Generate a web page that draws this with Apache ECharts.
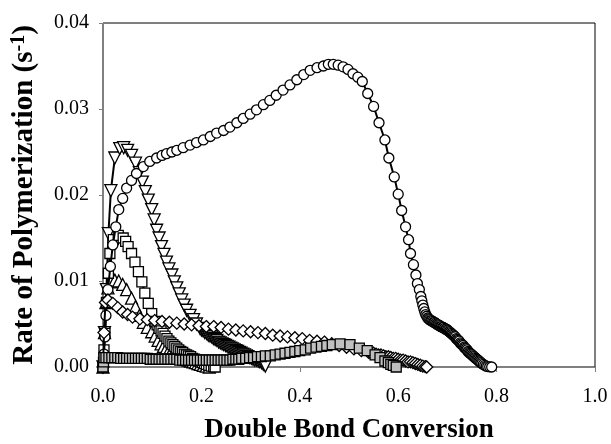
<!DOCTYPE html>
<html>
<head>
<meta charset="utf-8">
<script src="https://cdn.jsdelivr.net/npm/echarts@6.0.0/dist/echarts.min.js"></script>
<style>
html,body{margin:0;padding:0;background:#fff;}
#chart{width:611px;height:444px;}
</style>
</head>
<body>
<div id="chart"></div>
<script>
// ---- data (x = double bond conversion, y = rate of polymerization, s^-1) ----
const xTicks = [0.0, 0.2, 0.4, 0.6, 0.8, 1.0];
const yTicks = [0.00, 0.01, 0.02, 0.03, 0.04];

const downTriangles = [[0,0],[0.003,0.004],[0.007,0.009],[0.011,0.0155],[0.016,0.0205],[0.024,0.0243],[0.034,0.0254],[0.042,0.0255],[0.05,0.0252],[0.058,0.0246],[0.066,0.0237],[0.074,0.0226],[0.08,0.0215],[0.086,0.0204],[0.092,0.0194],[0.099,0.0183],[0.104,0.0171],[0.109,0.0159],[0.114,0.015],[0.119,0.014],[0.124,0.0131],[0.129,0.0122],[0.134,0.0114],[0.14,0.0107],[0.145,0.0099],[0.15,0.0092],[0.155,0.0085],[0.16,0.0078],[0.165,0.0072],[0.17,0.0066],[0.177,0.006],[0.184,0.0055],[0.19,0.005],[0.197,0.0045],[0.2,0.0043],[0.2035,0.0042],[0.207,0.004],[0.2105,0.0039],[0.214,0.0037],[0.2175,0.0036],[0.221,0.0035],[0.2245,0.0033],[0.228,0.0032],[0.2315,0.0031],[0.235,0.0029],[0.2385,0.0028],[0.242,0.0027],[0.2455,0.0026],[0.249,0.0025],[0.2525,0.0024],[0.256,0.0023],[0.2595,0.0022],[0.263,0.0021],[0.2665,0.002],[0.27,0.0019],[0.2735,0.0018],[0.277,0.0017],[0.2805,0.0016],[0.284,0.0015],[0.2875,0.0014],[0.291,0.0013],[0.2945,0.0012],[0.298,0.0011],[0.3015,0.001],[0.305,0.0009],[0.3085,0.0008],[0.312,0.0008],[0.3155,0.0007],[0.319,0.0006],[0.3225,0.0005],[0.326,0.0003],[0.33,0.0001]];

const upTriangles = [[0,0],[0.003,0.004],[0.006,0.0075],[0.01,0.0092],[0.016,0.0099],[0.024,0.0101],[0.032,0.01],[0.04,0.0096],[0.048,0.009],[0.058,0.008],[0.066,0.007],[0.074,0.006],[0.082,0.0052],[0.09,0.0046],[0.099,0.0041],[0.106,0.0036],[0.112,0.0031],[0.118,0.0027],[0.123,0.0024],[0.128,0.0021],[0.133,0.0018],[0.138,0.0017],[0.143,0.0016],[0.148,0.0014],[0.153,0.0012],[0.158,0.0011],[0.163,0.001],[0.168,0.0009],[0.173,0.0008],[0.178,0.0007],[0.183,0.0006],[0.188,0.0005],[0.193,0.0004],[0.198,0.0003],[0.204,0.0002],[0.21,0.0001],[0.216,0]];

const openSquares = [[0,0],[0.002,0.002],[0.004,0.0039],[0.007,0.0075],[0.011,0.0109],[0.014,0.0132],[0.021,0.0148],[0.031,0.0153],[0.041,0.015],[0.046,0.0146],[0.051,0.014],[0.058,0.0132],[0.065,0.0122],[0.072,0.0111],[0.079,0.0099],[0.085,0.0086],[0.092,0.0074],[0.099,0.0062],[0.106,0.0053],[0.11,0.0049],[0.114,0.0045],[0.118,0.0042],[0.122,0.0039],[0.126,0.0036],[0.13,0.0033],[0.134,0.003],[0.138,0.0028],[0.142,0.0026],[0.146,0.0024],[0.15,0.0022],[0.154,0.002],[0.158,0.0018],[0.162,0.0017],[0.166,0.0015],[0.17,0.0014],[0.174,0.0013],[0.178,0.0012],[0.182,0.001],[0.186,0.0009],[0.19,0.0008],[0.194,0.0007],[0.198,0.0006],[0.202,0.0005],[0.206,0.0004],[0.21,0.0003],[0.215,0.0002],[0.22,0.0001],[0.225,0.00005],[0.228,0]];

const circles = [[0,0],[0.002,0.0015],[0.004,0.0035],[0.006,0.006],[0.01,0.009],[0.015,0.0117],[0.02,0.0142],[0.026,0.0163],[0.032,0.0183],[0.04,0.0196],[0.048,0.0208],[0.058,0.0217],[0.068,0.0225],[0.082,0.0233],[0.095,0.0239],[0.109,0.0243],[0.12,0.0246],[0.129,0.0248],[0.14,0.025],[0.15,0.0252],[0.163,0.0255],[0.177,0.0258],[0.19,0.0261],[0.204,0.0264],[0.218,0.0268],[0.231,0.0272],[0.245,0.0275],[0.258,0.0279],[0.272,0.0284],[0.285,0.0289],[0.299,0.0294],[0.312,0.0299],[0.326,0.0305],[0.339,0.031],[0.352,0.0316],[0.366,0.0322],[0.38,0.0328],[0.394,0.0334],[0.408,0.034],[0.421,0.0345],[0.435,0.0348],[0.448,0.035],[0.458,0.0352],[0.468,0.0352],[0.478,0.0351],[0.488,0.0349],[0.498,0.0346],[0.508,0.0341],[0.518,0.0337],[0.527,0.0332],[0.538,0.0318],[0.55,0.0303],[0.561,0.0284],[0.573,0.0264],[0.581,0.0243],[0.592,0.0221],[0.6,0.0201],[0.607,0.0182],[0.615,0.0163],[0.621,0.0148],[0.625,0.0132],[0.631,0.0119],[0.636,0.0107],[0.639,0.0097],[0.643,0.009],[0.646,0.0082],[0.648,0.0077],[0.65,0.0072],[0.652,0.0068],[0.654,0.0064],[0.656,0.0061],[0.658,0.0059],[0.66,0.0057],[0.662,0.0056],[0.664,0.0055],[0.666,0.0054],[0.668,0.0054],[0.67,0.0053],[0.672,0.0052],[0.674,0.0052],[0.676,0.0051],[0.678,0.005],[0.68,0.0049],[0.682,0.0049],[0.684,0.0048],[0.686,0.0047],[0.688,0.0047],[0.69,0.0046],[0.692,0.0046],[0.694,0.0045],[0.696,0.0044],[0.698,0.0044],[0.7,0.0043],[0.702,0.0042],[0.704,0.0041],[0.706,0.004],[0.708,0.0039],[0.71,0.0038],[0.712,0.0037],[0.714,0.0036],[0.716,0.0035],[0.718,0.0033],[0.72,0.0032],[0.722,0.0031],[0.724,0.003],[0.726,0.0028],[0.728,0.0027],[0.73,0.0026],[0.732,0.0025],[0.734,0.0023],[0.736,0.0022],[0.738,0.0021],[0.74,0.002],[0.742,0.0018],[0.744,0.0017],[0.746,0.0016],[0.748,0.0015],[0.75,0.0014],[0.752,0.0013],[0.754,0.0012],[0.756,0.0011],[0.758,0.001],[0.76,0.0009],[0.762,0.0008],[0.764,0.0007],[0.766,0.0006],[0.768,0.0005],[0.77,0.0004],[0.773,0.0003],[0.776,0.0002],[0.779,0.0001],[0.782,0.00005],[0.786,0.00002],[0.79,0]];

const diamonds = [[0,0],[0.002,0.004],[0.005,0.0075],[0.01,0.0078],[0.02,0.0074],[0.03,0.0069],[0.04,0.0064],[0.05,0.0061],[0.06,0.0058],[0.075,0.0056],[0.09,0.0055],[0.105,0.0054],[0.12,0.0053],[0.135,0.0052],[0.15,0.0051],[0.165,0.005],[0.18,0.0049],[0.195,0.0048],[0.21,0.0047],[0.225,0.0047],[0.24,0.0046],[0.255,0.0044],[0.27,0.0043],[0.285,0.0042],[0.3,0.0041],[0.315,0.004],[0.33,0.0039],[0.345,0.0037],[0.36,0.0036],[0.375,0.0035],[0.39,0.0034],[0.405,0.0033],[0.42,0.0031],[0.435,0.003],[0.45,0.0029],[0.465,0.0027],[0.48,0.0025],[0.495,0.0023],[0.51,0.0021],[0.525,0.0019],[0.54,0.0017],[0.545,0.0016],[0.55,0.0016],[0.555,0.0015],[0.56,0.0014],[0.565,0.0014],[0.57,0.0013],[0.575,0.0012],[0.58,0.0012],[0.585,0.0011],[0.59,0.001],[0.595,0.001],[0.6,0.0009],[0.605,0.0008],[0.61,0.0008],[0.615,0.0007],[0.62,0.0006],[0.625,0.0006],[0.63,0.0005],[0.635,0.0004],[0.64,0.0003],[0.645,0.0002],[0.65,0.0001],[0.655,0.00005],[0.658,0]];

const graySquares = [[0,0],[0.001,0.0006],[0.002,0.0011],[0.006,0.0011],[0.012,0.0011],[0.018,0.0011],[0.024,0.0011],[0.03,0.0011],[0.036,0.001],[0.042,0.001],[0.048,0.001],[0.054,0.001],[0.06,0.001],[0.066,0.001],[0.072,0.001],[0.078,0.001],[0.084,0.001],[0.09,0.001],[0.096,0.0009],[0.102,0.0009],[0.108,0.0009],[0.114,0.0009],[0.12,0.0009],[0.126,0.0009],[0.132,0.0009],[0.138,0.0009],[0.144,0.0009],[0.15,0.0009],[0.156,0.0008],[0.162,0.0008],[0.168,0.0008],[0.174,0.0008],[0.18,0.0008],[0.186,0.0008],[0.192,0.0008],[0.198,0.0008],[0.204,0.0008],[0.21,0.0008],[0.216,0.0008],[0.222,0.0008],[0.228,0.0008],[0.234,0.0008],[0.24,0.0008],[0.246,0.0008],[0.252,0.0008],[0.258,0.0008],[0.264,0.0009],[0.27,0.0009],[0.276,0.0009],[0.282,0.001],[0.29,0.001],[0.298,0.0011],[0.306,0.0011],[0.314,0.0012],[0.322,0.0012],[0.33,0.0013],[0.34,0.0013],[0.35,0.0014],[0.36,0.0015],[0.37,0.0016],[0.38,0.0017],[0.39,0.0018],[0.4,0.0019],[0.411,0.002],[0.422,0.0022],[0.433,0.0023],[0.444,0.0024],[0.455,0.0025],[0.466,0.0026],[0.482,0.0027],[0.502,0.0026],[0.521,0.0022],[0.537,0.0019],[0.553,0.0014],[0.563,0.0011],[0.573,0.0007],[0.58,0.0005],[0.585,0.0003],[0.59,0.0002],[0.596,0]];

// ---- chart ----
const FONT = '"Liberation Serif", "Times New Roman", serif';
function lineSeries(name, data, symbol, size, fill, rotate, z) {
  return {
    name: name, type: 'line', data: data, z: z,
    symbol: symbol, symbolSize: size, symbolRotate: rotate || 0,
    showAllSymbol: true, smooth: false,
    lineStyle: { color: '#000', width: 2 },
    itemStyle: { color: fill, borderColor: '#000', borderWidth: 1.3 },
    emphasis: { disabled: true }
  };
}

const chart = echarts.init(document.getElementById('chart'), null, { renderer: 'canvas' });
chart.setOption({
  animation: false,
  backgroundColor: '#fff',
  grid: { left: 103, right: 16, top: 23, bottom: 77, show: true, borderColor: '#000', borderWidth: 1,
    backgroundColor: 'transparent', containLabel: false, outerBoundsMode: 'none' },
  xAxis: {
    type: 'value', min: xTicks[0], max: xTicks[xTicks.length - 1], interval: 0.2,
    name: 'Double Bond Conversion', nameLocation: 'middle', nameGap: 50,
    nameTextStyle: { fontFamily: FONT, fontSize: 27, fontWeight: 'bold', color: '#000' },
    axisLine: { show: true, lineStyle: { color: '#808080', width: 1 } },
    axisTick: { show: true, inside: false, length: 5, lineStyle: { color: '#808080' } },
    axisLabel: { fontFamily: FONT, fontSize: 20, color: '#000', margin: 20,
      formatter: v => v.toFixed(1) },
    splitLine: { show: false }
  },
  yAxis: {
    type: 'value', min: yTicks[0], max: yTicks[yTicks.length - 1], interval: 0.01,
    name: 'Rate of Polymerization (s{sup|-1})', nameLocation: 'middle', nameGap: 62, nameRotate: 90,
    nameTextStyle: { fontFamily: FONT, fontSize: 29, fontWeight: 'bold', color: '#000',
      rich: { sup: { fontFamily: FONT, fontSize: 20, fontWeight: 'bold', color: '#000', verticalAlign: 'top', padding: [0, 0, 12, 0] } } },
    axisLine: { show: true, lineStyle: { color: '#808080', width: 1 } },
    axisTick: { show: true, inside: false, length: 4, lineStyle: { color: '#808080' } },
    axisLabel: { fontFamily: FONT, fontSize: 20, color: '#000', margin: 14,
      formatter: v => v.toFixed(2) },
    splitLine: { show: false }
  },
  series: [
    lineSeries('down triangles', downTriangles, 'triangle', 12, '#fff', 180, 2),
    lineSeries('up triangles', upTriangles, 'triangle', 12, '#fff', 0, 3),
    lineSeries('open squares', openSquares, 'rect', 10, '#fff', 0, 4),
    lineSeries('circles', circles, 'circle', 10, '#fff', 0, 5),
    lineSeries('diamonds', diamonds, 'diamond', [12, 12], '#fff', 0, 6),
    lineSeries('gray squares', graySquares, 'rect', 10, '#c0c0c0', 0, 7)
  ]
});
</script>
</body>
</html>
